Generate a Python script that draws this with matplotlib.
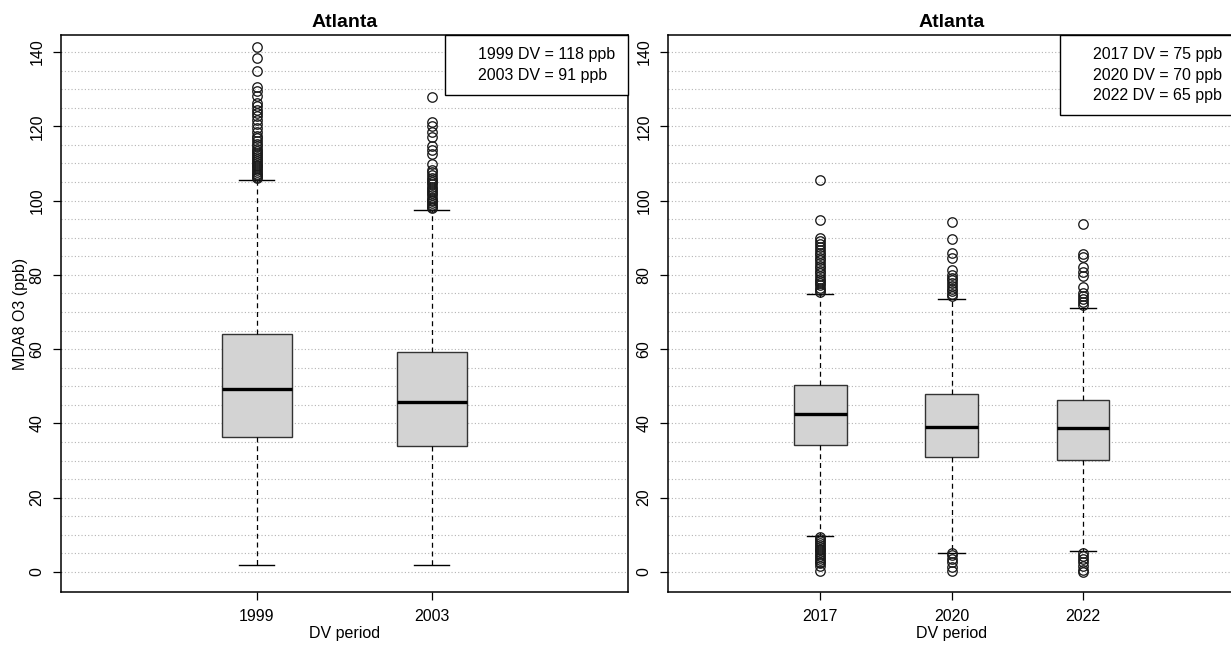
import numpy as np
import matplotlib
matplotlib.use('Agg')
import matplotlib.pyplot as plt
from matplotlib.lines import Line2D

plt.rcParams['font.family'] = ['Liberation Sans', 'DejaVu Sans']

# ---- data ----
site = 'Atlanta'

periods_left = ['1999', '2003']
q1_left = [36.3, 33.9]
med_left = [49.4, 45.8]
q3_left = [64.1, 59.2]
whislo_left = [1.9, 1.9]
whishi_left = [105.6, 97.4]
fliers_1999 = [141.5, 138.3, 134.8, 130.5, 129.5, 128.3, 126.2, 125.5, 124.5, 123.6, 122.8, 121.8,
               120.5, 119.6, 118.4, 117.5, 116.8, 116.0, 115.3, 114.6, 114.0, 113.4, 112.8, 112.2,
               111.7, 111.2, 110.7, 110.2, 109.7, 109.2, 108.7, 108.2, 107.7, 107.2, 106.8, 106.4, 106.0]
fliers_2003 = [127.8, 121.3, 120.0, 118.6, 117.2, 114.8, 113.6, 112.6, 109.8, 108.3, 107.6, 106.9,
               106.2, 105.6, 105.0, 104.4, 103.8, 103.2, 102.6, 102.0, 101.4, 100.8, 100.3, 99.8,
               99.3, 98.8, 98.3, 97.9]
dv_left = [118, 91]

periods_right = ['2017', '2020', '2022']
q1_right = [34.1, 30.9, 30.2]
med_right = [42.6, 39.1, 38.7]
q3_right = [50.3, 47.9, 46.4]
whislo_right = [9.8, 5.2, 5.6]
whishi_right = [74.8, 73.6, 71.2]
fliers_2017 = [105.5, 94.8, 90.0, 89.2, 88.3, 87.5, 86.7, 86.0, 85.3, 84.6, 83.9, 83.2, 82.5, 81.8,
               81.1, 80.4, 79.7, 79.0, 78.4, 77.8, 77.2, 76.6, 76.0, 75.5,
               9.3, 8.8, 8.3, 7.8, 7.3, 6.8, 6.3, 5.8, 5.3, 4.8, 4.3, 3.8, 3.3, 2.8, 2.3, 1.5, 0.2]
fliers_2020 = [94.2, 89.6, 86.0, 84.6, 81.3, 80.0, 79.2, 78.5, 77.8, 77.0, 76.3, 75.6, 74.9, 74.3,
               5.0, 4.5, 3.6, 2.6, 1.4, 0.2]
fliers_2022 = [93.6, 85.5, 84.7, 82.0, 80.8, 79.6, 76.8, 75.2, 74.4, 73.6, 72.8, 72.0,
               5.1, 4.3, 3.4, 2.6, 1.6, 0.6, 0.1]
dv_right = [75, 70, 65]

y_ticks = [0, 20, 40, 60, 80, 100, 120, 140]
grid_levels = list(range(0, 145, 5))


def make_stats(q1, med, q3, lo, hi, fliers):
    stats = []
    for a, m, b, l, h, f in zip(q1, med, q3, lo, hi, fliers):
        stats.append(dict(q1=a, med=m, q3=b, whislo=l, whishi=h, fliers=np.array(f)))
    return stats


def draw_panel(ax, stats, labels, dv, xmax, ylabel=None):
    for g in grid_levels:
        ax.axhline(g, color='#b4b4b4', linestyle=(0, (1, 2)), linewidth=0.8, zorder=0)
    pos = list(range(1, len(stats) + 1))
    ax.bxp(stats, positions=pos, widths=0.4, capwidths=0.2, patch_artist=True,
           boxprops=dict(facecolor='#d3d3d3', edgecolor='#333333', linewidth=1),
           medianprops=dict(color='black', linewidth=2.4),
           whiskerprops=dict(color='black', linestyle=(0, (4, 3)), linewidth=0.9),
           capprops=dict(color='black', linewidth=1),
           flierprops=dict(marker='o', markerfacecolor='none', markeredgecolor='#1a1a1a',
                           markersize=6.8, markeredgewidth=0.95))
    ax.set_xlim(-0.04 * xmax, xmax * 1.04)
    ax.set_ylim(-5.4, 144.6)
    ax.set_xticks(pos)
    ax.set_xticklabels(labels)
    ax.set_yticks(y_ticks)
    ax.set_yticklabels([str(t) for t in y_ticks], rotation=90, va='center')
    ax.tick_params(axis='both', length=6, width=0.9, labelsize=11.5, color='black')
    ax.tick_params(axis='y', pad=6)
    ax.tick_params(axis='x', pad=6)
    for s in ax.spines.values():
        s.set_linewidth(1.1)
    ax.set_title(site, fontsize=14, fontweight='bold', pad=6)
    ax.set_xlabel('DV period', fontsize=11.5, labelpad=2)
    if ylabel:
        ax.set_ylabel(ylabel, fontsize=11.5, labelpad=1)
    handles = [Line2D([], [], linestyle='none') for _ in dv]
    texts = ['{} DV = {} ppb'.format(p, v) for p, v in zip(labels, dv)]
    leg = ax.legend(handles, texts, loc='upper right', borderaxespad=0, fontsize=11.5,
                    frameon=True, fancybox=False, framealpha=1, edgecolor='black',
                    handlelength=0.8, handletextpad=0.5, borderpad=0.78, labelspacing=0.32)
    leg.get_frame().set_linewidth(1)


fig = plt.figure(figsize=(12.31, 6.48), dpi=100)
W, H = 1231.0, 648.0
ax1 = fig.add_axes([61 / W, (H - 592) / H, 567 / W, 557 / H])
ax2 = fig.add_axes([668 / W, (H - 592) / H, 567 / W, 557 / H])

draw_panel(ax1, make_stats(q1_left, med_left, q3_left, whislo_left, whishi_left,
                           [fliers_1999, fliers_2003]), periods_left, dv_left, 3, 'MDA8 O3 (ppb)')
draw_panel(ax2, make_stats(q1_right, med_right, q3_right, whislo_right, whishi_right,
                           [fliers_2017, fliers_2020, fliers_2022]), periods_right, dv_right, 4)

fig.savefig('out.png', dpi=100, facecolor='white')
